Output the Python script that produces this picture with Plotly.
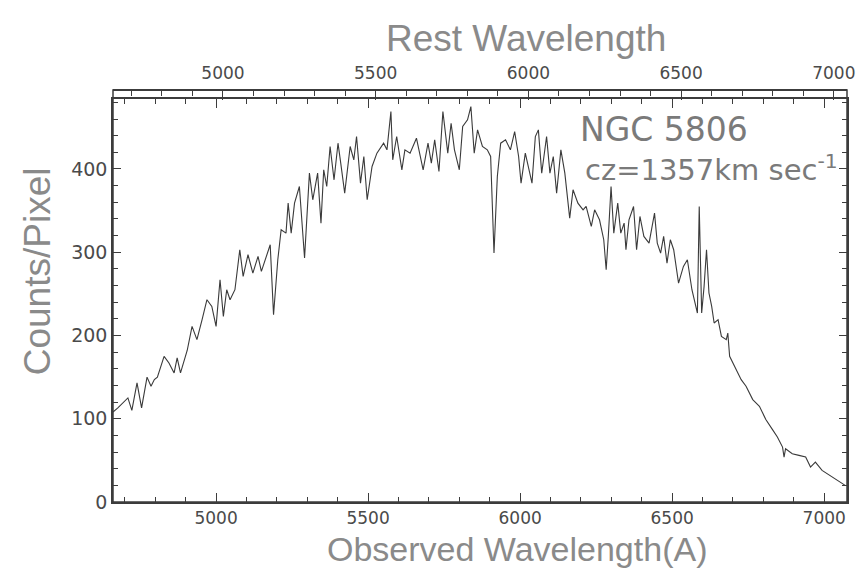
import plotly.graph_objects as go

# Observed wavelength (Angstrom) and counts per pixel
wavelength = [
    4661, 4677, 4710, 4723, 4740, 4755, 4773, 4786, 4797, 4807, 4829, 4845, 4862, 4872, 4883,
    4905, 4921, 4937, 4954, 4970, 4986, 5000, 5013, 5024, 5035, 5046, 5062, 5078, 5089, 5105,
    5121, 5138, 5149, 5165, 5178, 5189, 5203, 5214, 5230, 5237, 5247, 5258, 5274, 5291, 5307,
    5318, 5334, 5345, 5354, 5364, 5375, 5388, 5401, 5410, 5423, 5441, 5453, 5462, 5475, 5486,
    5497, 5513, 5529, 5551, 5562, 5575, 5581, 5594, 5611, 5621, 5638, 5659, 5681, 5697, 5708,
    5719, 5733, 5746, 5762, 5773, 5784, 5800, 5811, 5827, 5838, 5849, 5860, 5876, 5892, 5903,
    5914, 5925, 5936, 5952, 5968, 5982, 5995, 6003, 6017, 6039, 6050, 6060, 6071, 6087, 6098,
    6109, 6120, 6134, 6147, 6163, 6174, 6190, 6207, 6217, 6234, 6245, 6261, 6275, 6283, 6290,
    6299, 6308, 6321, 6331, 6342, 6348, 6358, 6373, 6383, 6394, 6407, 6424, 6442, 6451, 6462,
    6472, 6483, 6494, 6505, 6521, 6537, 6550, 6565, 6583, 6589, 6597, 6605, 6613, 6621, 6630,
    6638, 6651, 6662, 6678, 6683, 6689, 6711, 6727, 6743, 6765, 6787, 6808, 6830, 6846, 6863,
    6868, 6873, 6895, 6917, 6939, 6955, 6971, 6993, 7026, 7058, 7069,
]
counts = [
    108, 113, 125, 110, 143, 113, 150, 139, 147, 150, 175, 167, 155, 173, 155,
    182, 211, 195, 219, 243, 235, 211, 267, 223, 255, 243, 255, 303, 271, 297,
    275, 295, 277, 295, 309, 225, 291, 327, 323, 359, 323, 359, 379, 293, 395,
    363, 395, 335, 399, 379, 427, 387, 431, 407, 371, 427, 411, 439, 383, 415,
    363, 403, 419, 431, 423, 469, 411, 439, 399, 423, 419, 437, 399, 431, 407,
    435, 397, 469, 419, 455, 423, 399, 451, 459, 475, 419, 447, 427, 423, 415,
    299, 391, 431, 435, 423, 445, 415, 383, 419, 383, 439, 447, 395, 439, 395,
    415, 371, 423, 395, 341, 375, 359, 351, 355, 331, 351, 339, 315, 279, 319,
    379, 323, 359, 323, 335, 303, 339, 355, 303, 343, 319, 311, 347, 311, 299,
    319, 287, 315, 303, 263, 283, 291, 255, 227, 355, 227, 259, 303, 251, 235,
    215, 219, 199, 195, 203, 175, 159, 147, 139, 123, 115, 99, 87, 78, 66,
    54, 64, 58, 56, 54, 42, 48, 38, 30, 22, 20,
]

obs_ticks = [5000, 5500, 6000, 6500, 7000]
rest_ticks = [5000, 5500, 6000, 6500, 7000]
count_ticks = [0, 100, 200, 300, 400]

cz = 1357.0
z = cz / 299792.458
x_range = [4661, 7075]
y_range = [0, 484]

tick_color = "#4a4a4a"
title_color = "#8a8a8a"
axis_color = "#3c3c3c"

fig = go.Figure()
fig.add_trace(go.Scatter(
    x=wavelength, y=counts, mode="lines",
    line=dict(color="#3a3a3a", width=1.1),
    showlegend=False, hoverinfo="skip",
))
# trace on the rest-wavelength axis (same spectrum, shifted to the rest frame, hidden)
fig.add_trace(go.Scatter(
    x=[w / (1 + z) for w in wavelength], y=counts,
    xaxis="x2", yaxis="y", mode="lines", line=dict(width=0, color="rgba(0,0,0,0)"),
    showlegend=False, hoverinfo="skip",
))

xtick_font = dict(family="DejaVu Sans, Arial", size=17, color=tick_color)
ytick_font = dict(family="DejaVu Sans, Arial", size=19, color=tick_color)

fig.update_layout(
    width=862, height=568,
    margin=dict(l=113, r=7, t=90, b=66),
    paper_bgcolor="white", plot_bgcolor="white",
    xaxis=dict(
        range=x_range, tickvals=obs_ticks, ticks="inside", ticklen=9, tickwidth=1.2,
        tickcolor=axis_color, showline=True, linecolor=axis_color, linewidth=1.5,
        mirror="ticks", showgrid=False, zeroline=False, tickfont=xtick_font,
        minor=dict(dtick=100, tick0=4600, ticks="inside", ticklen=5, tickcolor=axis_color, showgrid=False),
    ),
    xaxis2=dict(
        range=[x_range[0] / (1 + z), x_range[1] / (1 + z)], overlaying="x", side="top",
        anchor="free", position=1, tickvals=rest_ticks, ticks="inside", ticklen=9, tickwidth=1.2,
        tickcolor=axis_color, showline=True, linecolor=axis_color, linewidth=1.5,
        showgrid=False, zeroline=False, tickfont=xtick_font, ticklabelstandoff=3,
        minor=dict(dtick=100, tick0=4600, ticks="inside", ticklen=5, tickcolor=axis_color, showgrid=False),
    ),
    yaxis=dict(
        range=y_range, domain=[0, 0.978], tickvals=count_ticks, ticks="inside", ticklen=8,
        tickwidth=1.2, tickcolor=axis_color, showline=True, linecolor=axis_color, linewidth=1.5,
        mirror="ticks", showgrid=False, zeroline=False, tickfont=ytick_font,
        minor=dict(dtick=20, ticks="inside", ticklen=5, tickcolor=axis_color, showgrid=False),
    ),
    shapes=[dict(type="rect", xref="paper", yref="paper", x0=0, x1=1, y0=0, y1=1,
                 line=dict(color=axis_color, width=1.5))],
    annotations=[
        dict(text="Rest Wavelength", xref="paper", yref="paper", x=0.562, y=1, yshift=52,
             xanchor="center", yanchor="middle", showarrow=False,
             font=dict(family="Liberation Sans, Arial", size=37, color=title_color)),
        dict(text="Observed Wavelength(A)", xref="paper", yref="paper", x=0.55, y=0, yshift=-47,
             xanchor="center", yanchor="middle", showarrow=False,
             font=dict(family="Liberation Sans, Arial", size=34, color=title_color)),
        dict(text="Counts/Pixel", xref="paper", yref="paper", x=0, xshift=-76, y=0.56,
             xanchor="center", yanchor="middle", textangle=-90, showarrow=False,
             font=dict(family="Liberation Sans, Arial", size=37, color=title_color)),
        dict(text="NGC 5806", xref="paper", yref="paper", x=0.633, y=0.905,
             xanchor="left", yanchor="middle", showarrow=False,
             font=dict(family="DejaVu Sans, Arial", size=33, color="#7a7a7a")),
        dict(text="cz=1357km sec<sup>-1</sup>", xref="paper", yref="paper", x=0.64, y=0.81,
             xanchor="left", yanchor="middle", showarrow=False,
             font=dict(family="DejaVu Sans, Arial", size=29, color="#7a7a7a")),
    ],
)

fig.write_html("out.html")
